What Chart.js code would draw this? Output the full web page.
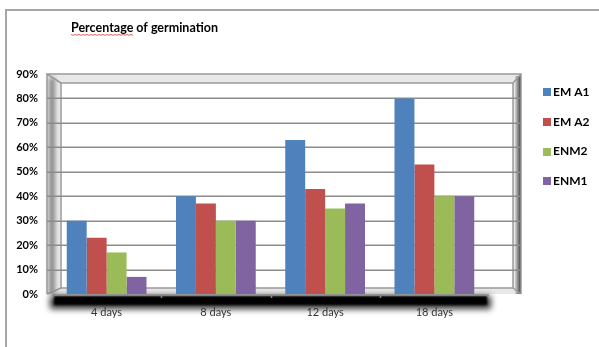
<!DOCTYPE html>
<html>
<head>
<meta charset="utf-8">
<script src="https://cdn.jsdelivr.net/npm/chart.js@4.4.1/dist/chart.umd.min.js"></script>
<style>
  html, body { margin: 0; padding: 0; background: #ffffff; }
  #wrap { position: relative; width: 599px; height: 347px; }
</style>
</head>
<body>
<div id="wrap"><canvas id="c" width="599" height="347"></canvas></div>
<script>
// Germination percentages after each incubation period
const categories = ['4 days', '8 days', '12 days', '18 days'];
const seriesNames = ['EM A1', 'EM A2', 'ENM2', 'ENM1'];
const emA1 = [30, 40, 63, 80];
const emA2 = [23, 37, 43, 53];
const enm2 = [17, 30, 35, 40];
const enm1 = [7, 30, 37, 40];
const yTicks = [0, 10, 20, 30, 40, 50, 60, 70, 80, 90];
const chartTitle = 'Percentage of germination';

const palette = ['#4F81BD', '#C0504D', '#9BBB59', '#8064A2'];
const seriesValues = [emA1, emA2, enm2, enm1];
const FONT = 'Lato, "Open Sans", "DejaVu Sans", sans-serif';

// Outer frame, title, 3D-style back wall, gridlines and floor shadow
const decor = {
  id: 'decor',
  beforeDraw(chart) {
    const ctx = chart.ctx;
    const a = chart.chartArea;
    const y = chart.scales.y;
    const top = y.getPixelForValue(90);
    const base = y.getPixelForValue(0);
    const L = a.left - 5, R = a.right + 32;

    ctx.save();
    // outer frame
    ctx.strokeStyle = '#a6a6a6';
    ctx.lineWidth = 2;
    ctx.beginPath();
    ctx.moveTo(6, 400); ctx.lineTo(6, 10); ctx.lineTo(620, 10);
    ctx.stroke();

    // title
    ctx.fillStyle = '#000';
    ctx.font = 'bold 12.5px ' + FONT;
    ctx.textBaseline = 'middle';
    ctx.textAlign = 'left';
    ctx.fillText(chartTitle, 71, 28);
    const w1 = ctx.measureText('Percentage').width;
    ctx.strokeStyle = '#e06060';
    ctx.lineWidth = 1;
    ctx.beginPath();
    for (let x = 71; x <= 71 + w1; x += 2) {
      const yy = 34.5 + ((x - 71) % 4 === 0 ? 0 : 0.8);
      if (x === 71) ctx.moveTo(x, yy); else ctx.lineTo(x, yy);
    }
    ctx.stroke();

    // wall bevel
    const iL = L + 14, iT = top + 9, iR = R - 8, iB = base - 6;
    ctx.fillStyle = '#e8e8e8';
    ctx.fillRect(L, top, R - L, base - top);
    // left soft shadow
    ctx.save();
    ctx.filter = 'blur(2px)';
    ctx.fillStyle = '#8a8a8a';
    ctx.fillRect(L + 2, top + 4, 6, base - top - 4);
    ctx.restore();
    // right dark edge
    const g = ctx.createLinearGradient(R - 6, 0, R, 0);
    g.addColorStop(0, '#d6d6d6');
    g.addColorStop(1, '#3a3a3a');
    ctx.fillStyle = g;
    ctx.fillRect(R - 6, top + 2, 6, base - top - 2);
    // inner wall
    ctx.fillStyle = '#ffffff';
    ctx.fillRect(iL, iT, iR - iL, iB - iT);
    ctx.strokeStyle = '#9a9a9a';
    ctx.lineWidth = 1.5;
    ctx.strokeRect(iL, iT, iR - iL, iB - iT);
    ctx.beginPath();
    ctx.moveTo(L, top); ctx.lineTo(iL, iT);
    ctx.moveTo(R, top); ctx.lineTo(iR, iT);
    ctx.moveTo(R, base); ctx.lineTo(iR, iB);
    ctx.moveTo(L, base); ctx.lineTo(iL, iB);
    ctx.stroke();
    // outer wall edges
    ctx.strokeStyle = '#999999';
    ctx.lineWidth = 1.5;
    ctx.beginPath();
    ctx.moveTo(L, base); ctx.lineTo(L, top); ctx.lineTo(R, top); ctx.lineTo(R, base);
    ctx.stroke();

    // horizontal gridlines
    ctx.strokeStyle = '#8c8c8c';
    ctx.lineWidth = 1.6;
    yTicks.forEach(v => {
      if (v === 0 || v === 90) return;
      const py = Math.round(y.getPixelForValue(v)) + 0.2;
      ctx.beginPath();
      ctx.moveTo(L, py); ctx.lineTo(R, py);
      ctx.stroke();
    });

    // floor front edge and its soft shadow
    ctx.save();
    ctx.filter = 'blur(3px)';
    ctx.fillStyle = 'rgba(0,0,0,0.8)';
    ctx.fillRect(a.left - 2, base + 2, a.right - a.left + 4, 13);
    ctx.restore();
    ctx.save();
    ctx.filter = 'blur(1px)';
    ctx.fillStyle = '#000';
    ctx.fillRect(a.left + 2, base + 2, a.right - a.left - 4, 9);
    ctx.restore();
    ctx.strokeStyle = '#888';
    ctx.lineWidth = 1.5;
    ctx.beginPath();
    ctx.moveTo(a.left, base + 1); ctx.lineTo(a.right, base + 1);
    ctx.stroke();
    // category boundary ticks
    const xs = chart.scales.x;
    for (let i = 1; i < categories.length; i++) {
      const px = Math.round((xs.getPixelForValue(i - 1) + xs.getPixelForValue(i)) / 2) + 0.5;
      ctx.beginPath();
      ctx.moveTo(px, base); ctx.lineTo(px, base + 4);
      ctx.stroke();
    }
    ctx.restore();
  },
  afterDraw(chart) {
    // legend on the right
    const ctx = chart.ctx;
    ctx.save();
    ctx.font = 'bold 12px ' + FONT;
    ctx.textBaseline = 'middle';
    ctx.textAlign = 'left';
    chart.data.datasets.forEach((ds, i) => {
      const cy = 92 + i * 29.8;
      ctx.fillStyle = ds.backgroundColor;
      ctx.fillRect(543, Math.round(cy - 4), 8, 8);
      ctx.fillStyle = '#000';
      ctx.fillText(ds.label, 553, cy);
    });
    ctx.restore();
  }
};

new Chart(document.getElementById('c'), {
  type: 'bar',
  data: {
    labels: categories,
    datasets: seriesNames.map((name, i) => ({
      label: name,
      data: seriesValues[i],
      backgroundColor: palette[i],
      borderWidth: 0,
      categoryPercentage: 0.73,
      barPercentage: 1.0
    }))
  },
  options: {
    responsive: false,
    animation: false,
    devicePixelRatio: 1,
    layout: { padding: { left: 6, right: 110, top: 74, bottom: 23 } },
    plugins: { legend: { display: false }, title: { display: false }, tooltip: { enabled: false } },
    scales: {
      x: {
        grid: { display: false, drawTicks: false },
        border: { display: false },
        ticks: { color: '#333', font: { family: FONT, size: 11 }, padding: 12 },
        afterFit(s) { s.height = 30; }
      },
      y: {
        min: 0, max: 90,
        grid: { display: false, drawTicks: false },
        border: { display: false },
        ticks: {
          stepSize: 10,
          color: '#000',
          font: { family: FONT, size: 11, weight: 'bold' },
          padding: 14,
          callback: v => v + '%'
        },
        afterFit(s) { s.width = 46; }
      }
    }
  },
  plugins: [decor]
});
</script>
</body>
</html>
